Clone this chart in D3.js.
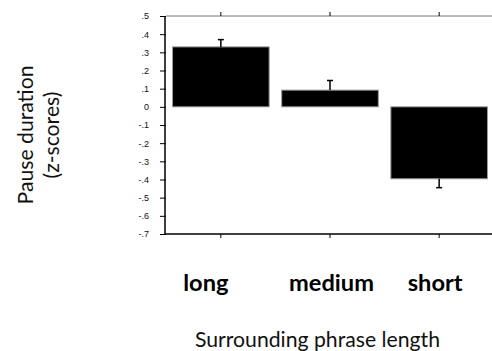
<!DOCTYPE html>
<html><head><meta charset="utf-8">
<script src="https://cdn.jsdelivr.net/npm/d3@7"></script>
<style>body{margin:0;background:#fff}svg{display:block}</style>
</head><body>
<script>
const categories = ["long", "medium", "short"];
const values = [0.33, 0.092, -0.396];
const errors = [0.04, 0.053, 0.049];
const yTicks = [0.5,0.4,0.3,0.2,0.1,0,-0.1,-0.2,-0.3,-0.4,-0.5,-0.6,-0.7];
const yTickLabels = [".5",".4",".3",".2",".1","0","-.1","-.2","-.3","-.4","-.5","-.6","-.7"];

(function(){
const W = 492, H = 351;
const svg = d3.select("body").append("svg").attr("width", W).attr("height", H);
const pL = 166, pR = 494, pT = 16, pB = 234;
const FONT = "Lato, 'Open Sans', sans-serif";

function fitSize(sel, target){
  const fs = +sel.attr("font-size");
  const w = sel.node().getComputedTextLength();
  return w > 0 ? fs * target / w : fs;
}

const x = d3.scaleBand().domain(categories).range([pL, pR]).paddingInner(0.115).paddingOuter(0.06);
const y = d3.scaleLinear().domain([-0.7, 0.5]).range([pB, pT]);

svg.append("line").attr("x1", pL).attr("x2", pR).attr("y1", pT).attr("y2", pT)
  .attr("stroke", "#777").attr("stroke-width", 1);
const cx = d => x(d) + x.bandwidth()/2;
svg.selectAll(".tt").data(categories).enter().append("line")
  .attr("x1", cx).attr("x2", cx).attr("y1", pT).attr("y2", pT-4)
  .attr("stroke", "#000");

svg.selectAll(".bar").data(categories).enter().append("rect")
  .attr("x", d => x(d))
  .attr("width", x.bandwidth())
  .attr("y", (d,i) => y(Math.max(0, values[i])))
  .attr("height", (d,i) => Math.abs(y(values[i]) - y(0)))
  .attr("fill", "#000").attr("stroke", "#999").attr("stroke-width", 1);

categories.forEach((c,i) => {
  const v = values[i], e = errors[i];
  const end = v >= 0 ? v + e : v - e;
  svg.append("line").attr("x1", cx(c)).attr("x2", cx(c)).attr("y1", y(v)).attr("y2", y(end))
    .attr("stroke", "#000").attr("stroke-width", 1.5);
  svg.append("line").attr("x1", cx(c)-3).attr("x2", cx(c)+3).attr("y1", y(end)).attr("y2", y(end))
    .attr("stroke", "#000").attr("stroke-width", 1.5);
});

const yAxis = d3.axisLeft(y).tickValues(yTicks).tickFormat((d,i) => yTickLabels[i]).tickSize(6).tickPadding(11);
const ga = svg.append("g").attr("transform", `translate(${pL},0)`).call(yAxis);
ga.select(".domain").attr("stroke-width", 1.5).attr("d", `M-1,${pT}V${pB}`);
ga.selectAll("text").attr("font-family", "Liberation Sans, Arial, sans-serif").attr("font-size", 9).attr("fill", "#111");

const xAxis = d3.axisBottom(x).tickSize(4).tickFormat("");
const gx = svg.append("g").attr("transform", `translate(0,${pB})`).call(xAxis);
gx.select(".domain").attr("stroke-width", 1.5).attr("d", `M${pL-1},0H${pR}`);

const labelOffsets = [-15, 1.5, -4];
const labels = svg.selectAll(".cl").data(categories).enter().append("text")
  .attr("x", (d,i) => cx(d) + labelOffsets[i]).attr("y", 291)
  .attr("text-anchor", "middle").attr("font-family", FONT)
  .attr("font-weight", "bold").attr("font-size", 20).attr("fill", "#000").text(d => d);
const lfs = fitSize(labels.filter((d,i) => i === 1), 85);
labels.attr("font-size", lfs);

const xt = svg.append("text").attr("x", 317.5).attr("y", 347).attr("text-anchor", "middle")
  .attr("font-family", FONT).attr("font-size", 20).attr("fill", "#111")
  .text("Surrounding phrase length");
const tfs = fitSize(xt, 245);
xt.attr("font-size", tfs);

const yt1 = svg.append("text").attr("transform", "translate(33,135) rotate(-90)")
  .attr("text-anchor", "middle").attr("font-family", FONT).attr("font-size", tfs).attr("fill", "#111")
  .text("Pause duration");
const yt2 = svg.append("text").attr("transform", "translate(59,135) rotate(-90)")
  .attr("text-anchor", "middle").attr("font-family", FONT).attr("font-size", tfs).attr("fill", "#111")
  .text("(z-scores)");
})();
</script>
</body></html>
